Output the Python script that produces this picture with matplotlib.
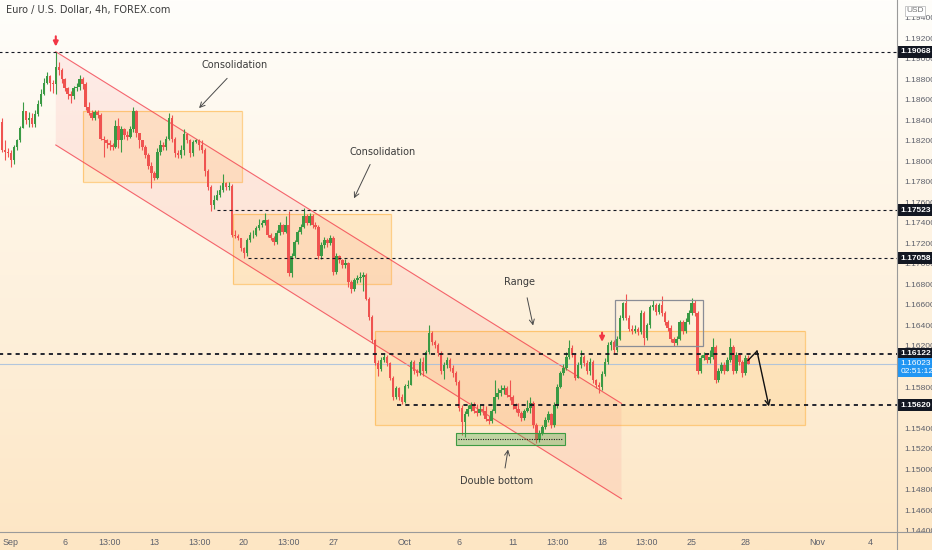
import numpy as np
import matplotlib
matplotlib.use("Agg")
import matplotlib.pyplot as plt
from matplotlib.patches import Rectangle, Polygon
from matplotlib.lines import Line2D
import matplotlib.transforms as mtransforms

### DATA ###

# EURUSD 4h candles (open = previous close)
first_open = 1.1838
closes = [
    1.1811, 1.1809, 1.1808, 1.1801, 1.1814, 1.1821, 1.1833, 1.1849, 1.1840, 1.1842,
    1.1836, 1.1846, 1.1856, 1.1866, 1.1876, 1.1883, 1.1876, 1.1875, 1.1892, 1.1889,
    1.1880, 1.1872, 1.1866, 1.1864, 1.1872, 1.1873, 1.1880, 1.1875, 1.1853, 1.1847,
    1.1842, 1.1848, 1.1845, 1.1822, 1.1821, 1.1818, 1.1816, 1.1814, 1.1835, 1.1821,
    1.1832, 1.1826, 1.1824, 1.1832, 1.1849, 1.1828, 1.1821, 1.1814, 1.1806, 1.1796,
    1.1789, 1.1784, 1.1809, 1.1816, 1.1814, 1.1822, 1.1842, 1.1822, 1.1808, 1.1806,
    1.1811, 1.1827, 1.1821, 1.1808, 1.1819, 1.1821, 1.1816, 1.1811, 1.1791, 1.1775,
    1.1757, 1.1762, 1.1767, 1.1772, 1.1779, 1.1775, 1.1776, 1.1728,
    1.1727, 1.1725, 1.1716, 1.1711, 1.1723, 1.1728, 1.1728, 1.1735, 1.1738, 1.1740,
    1.1743, 1.1728, 1.1725, 1.1721, 1.1730, 1.1738, 1.1731, 1.1738, 1.1691, 1.1708,
    1.1721, 1.1731, 1.1736, 1.1747, 1.1740, 1.1747, 1.1738, 1.1736, 1.1708, 1.1718,
    1.1723, 1.1720, 1.1725, 1.1692, 1.1708, 1.1704, 1.1699, 1.1701, 1.1682, 1.1676,
    1.1684, 1.1686, 1.1687, 1.1689, 1.1666, 1.1648, 1.1626,
    1.1603, 1.1598, 1.1606, 1.1609, 1.1603, 1.1589, 1.1570, 1.1579, 1.1570, 1.1565,
    1.1581, 1.1582, 1.1604, 1.1596, 1.1594, 1.1604, 1.1596, 1.1614, 1.1633, 1.1624,
    1.1621, 1.1613, 1.1596, 1.1601, 1.1606, 1.1599, 1.1594, 1.1585, 1.1560, 1.1546,
    1.1554, 1.1559, 1.1562, 1.1557, 1.1555, 1.1559, 1.1557,
    1.1549, 1.1547, 1.1557, 1.1570, 1.1574, 1.1577,
    1.1579, 1.1572, 1.1570, 1.1562, 1.1559,
    1.1555, 1.1550, 1.1557, 1.1560,
    1.1564, 1.1543, 1.1528, 1.1535, 1.1541, 1.1548, 1.1554, 1.1543, 1.1562, 1.1580,
    1.1594, 1.1599, 1.1609, 1.1618, 1.1611, 1.1589, 1.1601, 1.1609, 1.1603, 1.1596,
    1.1604, 1.1587, 1.1582, 1.1580, 1.1593, 1.1604, 1.1621, 1.1624, 1.1616, 1.1627,
    1.1647, 1.1662, 1.1647, 1.1637, 1.1635, 1.1637, 1.1634, 1.1652, 1.1628, 1.1640,
    1.1658, 1.1660, 1.1653, 1.1660, 1.1652, 1.1643, 1.1638, 1.1627, 1.1623, 1.1627,
    1.1643, 1.1635, 1.1643, 1.1652, 1.1662, 1.1652, 1.1596, 1.1608, 1.1611, 1.1606,
    1.1609, 1.1619, 1.1587, 1.1596, 1.1601, 1.1596, 1.1606, 1.1619, 1.1596, 1.1611,
    1.1604, 1.1594, 1.1608, 1.1602,
]
highs = [
    1.1842, 1.1821, 1.1813, 1.1811, 1.1816, 1.1822, 1.1835, 1.1858, 1.1849, 1.1848,
    1.1847, 1.1850, 1.1860, 1.1871, 1.1881, 1.1887, 1.1884, 1.1879, 1.1907, 1.1897,
    1.1891, 1.1881, 1.1873, 1.1869, 1.1874, 1.1876, 1.1884, 1.1882, 1.1877, 1.1858,
    1.1850, 1.1850, 1.1850, 1.1847, 1.1825, 1.1822, 1.1821, 1.1818, 1.1840, 1.1842,
    1.1835, 1.1833, 1.1830, 1.1835, 1.1853, 1.1850, 1.1828, 1.1821, 1.1816, 1.1808,
    1.1799, 1.1791, 1.1813, 1.1821, 1.1819, 1.1825, 1.1847, 1.1845, 1.1824, 1.1811,
    1.1816, 1.1832, 1.1828, 1.1822, 1.1821, 1.1822, 1.1822, 1.1821, 1.1813, 1.1793,
    1.1777, 1.1767, 1.1772, 1.1777, 1.1788, 1.1780, 1.1780, 1.1778,
    1.1733, 1.1729, 1.1725, 1.1717, 1.1725, 1.1731, 1.1733, 1.1737, 1.1744, 1.1743,
    1.1750, 1.1744, 1.1730, 1.1727, 1.1733, 1.1741, 1.1739, 1.1747, 1.1752, 1.1711,
    1.1723, 1.1733, 1.1739, 1.1755, 1.1749, 1.1750, 1.1749, 1.1741, 1.1738, 1.1721,
    1.1726, 1.1725, 1.1728, 1.1727, 1.1711, 1.1709, 1.1705, 1.1705, 1.1702, 1.1684,
    1.1686, 1.1689, 1.1692, 1.1692, 1.1691, 1.1668, 1.1650,
    1.1627, 1.1606, 1.1609, 1.1612, 1.1611, 1.1604, 1.1591, 1.1581, 1.1580, 1.1573,
    1.1583, 1.1587, 1.1606, 1.1606, 1.1598, 1.1608, 1.1609, 1.1616, 1.1640, 1.1635,
    1.1626, 1.1623, 1.1615, 1.1604, 1.1609, 1.1608, 1.1601, 1.1596, 1.1587, 1.1562,
    1.1557, 1.1562, 1.1565, 1.1565, 1.1563, 1.1562, 1.1562,
    1.1561, 1.1552, 1.1559, 1.1587, 1.1579, 1.1582,
    1.1582, 1.1581, 1.1587, 1.1572, 1.1564,
    1.1564, 1.1557, 1.1559, 1.1567,
    1.1570, 1.1566, 1.1545, 1.1538, 1.1543, 1.1551, 1.1557, 1.1555, 1.1565, 1.1583,
    1.1596, 1.1602, 1.1614, 1.1626, 1.1621, 1.1613, 1.1604, 1.1616, 1.1611, 1.1606,
    1.1608, 1.1606, 1.1588, 1.1585, 1.1596, 1.1608, 1.1624, 1.1626, 1.1626, 1.1630,
    1.1650, 1.1663, 1.1671, 1.1650, 1.1640, 1.1640, 1.1639, 1.1655, 1.1654, 1.1642,
    1.1660, 1.1665, 1.1662, 1.1662, 1.1669, 1.1654, 1.1645, 1.1640, 1.1629, 1.1630,
    1.1645, 1.1645, 1.1647, 1.1655, 1.1667, 1.1665, 1.1654, 1.1611, 1.1614, 1.1613,
    1.1616, 1.1628, 1.1621, 1.1599, 1.1604, 1.1604, 1.1609, 1.1628, 1.1621, 1.1614,
    1.1613, 1.1606, 1.1611, 1.1611,
]
lows = [
    1.1809, 1.1801, 1.1804, 1.1795, 1.1797, 1.1811, 1.1819, 1.1837, 1.1836, 1.1834,
    1.1834, 1.1834, 1.1844, 1.1854, 1.1865, 1.1875, 1.1869, 1.1867, 1.1866, 1.1884,
    1.1876, 1.1869, 1.1861, 1.1857, 1.1861, 1.1869, 1.1870, 1.1871, 1.1850, 1.1845,
    1.1840, 1.1840, 1.1842, 1.1821, 1.1804, 1.1813, 1.1811, 1.1811, 1.1813, 1.1813,
    1.1809, 1.1822, 1.1821, 1.1823, 1.1829, 1.1824, 1.1813, 1.1811, 1.1803, 1.1793,
    1.1774, 1.1782, 1.1783, 1.1806, 1.1811, 1.1811, 1.1821, 1.1819, 1.1804, 1.1803,
    1.1803, 1.1806, 1.1818, 1.1804, 1.1805, 1.1818, 1.1811, 1.1808, 1.1786, 1.1772,
    1.1752, 1.1754, 1.1762, 1.1765, 1.1770, 1.1772, 1.1772, 1.1726,
    1.1725, 1.1723, 1.1713, 1.1706, 1.1708, 1.1721, 1.1725, 1.1727, 1.1733, 1.1736,
    1.1738, 1.1726, 1.1723, 1.1718, 1.1719, 1.1728, 1.1729, 1.1730, 1.1688, 1.1687,
    1.1706, 1.1719, 1.1729, 1.1735, 1.1738, 1.1738, 1.1735, 1.1734, 1.1705, 1.1705,
    1.1716, 1.1717, 1.1718, 1.1689, 1.1690, 1.1701, 1.1696, 1.1696, 1.1678, 1.1672,
    1.1674, 1.1681, 1.1682, 1.1674, 1.1665, 1.1645, 1.1623,
    1.1601, 1.1591, 1.1596, 1.1604, 1.1600, 1.1587, 1.1567, 1.1568, 1.1567, 1.1563,
    1.1564, 1.1579, 1.1582, 1.1593, 1.1591, 1.1592, 1.1591, 1.1594, 1.1612, 1.1621,
    1.1618, 1.1610, 1.1593, 1.1588, 1.1599, 1.1596, 1.1590, 1.1582, 1.1557, 1.1533,
    1.1531, 1.1552, 1.1557, 1.1555, 1.1552, 1.1553, 1.1553,
    1.1547, 1.1544, 1.1545, 1.1555, 1.1568, 1.1571,
    1.1573, 1.1570, 1.1567, 1.1559, 1.1556,
    1.1552, 1.1547, 1.1548, 1.1556,
    1.1555, 1.1540, 1.1525, 1.1526, 1.1533, 1.1539, 1.1546, 1.1540, 1.1541, 1.1560,
    1.1579, 1.1592, 1.1597, 1.1607, 1.1609, 1.1587, 1.1591, 1.1599, 1.1600, 1.1593,
    1.1592, 1.1584, 1.1579, 1.1574, 1.1577, 1.1591, 1.1602, 1.1616, 1.1613, 1.1614,
    1.1626, 1.1645, 1.1645, 1.1635, 1.1632, 1.1633, 1.1631, 1.1632, 1.1621, 1.1626,
    1.1638, 1.1655, 1.1650, 1.1651, 1.1649, 1.1640, 1.1635, 1.1624, 1.1620, 1.1621,
    1.1626, 1.1632, 1.1633, 1.1641, 1.1650, 1.1649, 1.1593, 1.1594, 1.1606, 1.1603,
    1.1603, 1.1607, 1.1584, 1.1585, 1.1594, 1.1593, 1.1600, 1.1604, 1.1593, 1.1594,
    1.1601, 1.1590, 1.1592, 1.1603,
]

# x axis labels (bar index, 6 bars per trading day)
tick_pos = [0, 18, 33, 48, 63, 78, 93, 108, 132, 150, 168, 183, 198, 213, 228, 246, 270, 288]
tick_lbl = ['Sep', '6', '13:00', '13', '13:00', '20', '13:00', '27', 'Oct', '6', '11',
            '13:00', '18', '13:00', '25', '28', 'Nov', '4']

# horizontal levels
lvl_top = 1.19068
lvl_res1 = 1.17523
lvl_res2 = 1.17058
lvl_range_top = 1.16122
lvl_range_bot = 1.15620
last_price = 1.16023

### STYLE ###
GREEN = '#3a9a44'
RED = '#ef5350'
ORANGE = '#ff9800'
CHANNEL = '#f23645'
TXT = '#3b3b3b'
NARROW = ['Liberation Sans Narrow', 'Liberation Sans', 'DejaVu Sans']

fig = plt.figure(figsize=(9.32, 5.5), dpi=100)

# background gradient (white top -> peach bottom)
bg = fig.add_axes([0, 0, 1, 1], zorder=-5)
top_c = np.array([255, 254, 251]) / 255
bot_c = np.array([253, 230, 196]) / 255
t = np.linspace(0, 1, 256)[:, None]
grad = top_c[None, :] * (1 - t) + bot_c[None, :] * t
bg.imshow(grad[:, None, :], aspect='auto', extent=[0, 1, 0, 1])
bg.axis('off')

ax = fig.add_axes([0, 18 / 550, 897 / 932, 532 / 550])
ax.set_facecolor('none')
ax.set_xlim(-3.69, 296.8)
ax.set_ylim(1.14386, 1.19574)

### CANDLES ###
closes = np.array(closes)
highs = np.array(highs)
lows = np.array(lows)
opens = np.r_[first_open, closes[:-1]]
x = np.arange(len(closes)) - 3
highs = np.maximum(highs, np.maximum(opens, closes))
lows = np.minimum(lows, np.minimum(opens, closes))
cols = np.where(closes >= opens, GREEN, RED)
ax.vlines(x, lows, highs, colors=cols, lw=0.8, zorder=4)
body = np.maximum(np.abs(closes - opens), 0.00007)
ax.bar(x, body, bottom=np.minimum(opens, closes), width=0.84, color=cols, lw=0, zorder=5)

### CHANNEL ###
ch_x0, ch_x1 = 15, 204.5
ch_up = (1.1907, 1.1564)
ch_lo = (1.1816, 1.1471)
ax.add_patch(Polygon([(ch_x0, ch_up[0]), (ch_x1, ch_up[1]), (ch_x1, ch_lo[1]), (ch_x0, ch_lo[0])],
                     closed=True, fc=CHANNEL, alpha=0.08, ec='none', zorder=1))
ax.plot([ch_x0, ch_x1], ch_up, color=CHANNEL, lw=0.8, alpha=0.75, zorder=3)
ax.plot([ch_x0, ch_x1], ch_lo, color=CHANNEL, lw=0.8, alpha=0.75, zorder=3)

### BOXES ###
for (x0, x1, p0, p1) in [(24.1, 77.4, 1.1780, 1.1849),
                         (74.4, 127.3, 1.1680, 1.1749),
                         (121.9, 266.0, 1.1543, 1.1635)]:
    ax.add_patch(Rectangle((x0, p0), x1 - x0, p1 - p0, fc=ORANGE, alpha=0.13, ec='none', zorder=2))
    ax.add_patch(Rectangle((x0, p0), x1 - x0, p1 - p0, fc='none', ec=ORANGE, alpha=0.4, lw=0.9, zorder=2))

ax.add_patch(Rectangle((202.3, 1.1620), 29.5, 0.0045, fc='none', ec='#8a8d96', lw=0.9, zorder=6))

# double bottom zone
ax.add_patch(Rectangle((149.0, 1.1523), 36.6, 0.0012, fc='#4caf50', alpha=0.35, ec='none', zorder=6))
ax.add_patch(Rectangle((149.0, 1.1523), 36.6, 0.0012, fc='none', ec='#3e9a42', lw=0.8, zorder=6))
ax.hlines(1.1529, 149.6, 185.0, colors='#1b1b1b', lw=0.8, linestyles=(0, (1, 1.2)), zorder=7)

### LEVELS ###
thin = (0, (2.7, 2.7))
thick = (0, (2.3, 2.3))
ax.hlines(lvl_top, -4, 297, colors='#131722', lw=0.8, linestyles=thin, zorder=6)
ax.hlines(lvl_res1, 69, 297, colors='#131722', lw=0.8, linestyles=thin, zorder=6)
ax.hlines(lvl_res2, 79.4, 297, colors='#131722', lw=0.8, linestyles=thin, zorder=6)
ax.hlines(lvl_range_top, -4, 297, colors='#131722', lw=1.3, linestyles=thick, zorder=6)
ax.hlines(lvl_range_bot, 129.3, 297, colors='#131722', lw=1.3, linestyles=thick, zorder=6)
ax.axhline(last_price, color='#9fbde0', lw=0.8, alpha=0.8, zorder=3)

### ANNOTATIONS ###
arr = dict(arrowstyle='->', color='#4a4a4a', lw=0.7, shrinkA=0, shrinkB=0, mutation_scale=9)
ax.text(75, 1.1894, 'Consolidation', ha='center', va='center', fontsize=7, color=TXT)
ax.annotate('', xy=(63, 1.1852), xytext=(72.4, 1.1881), arrowprops=arr)
ax.text(124.6, 1.1809, 'Consolidation', ha='center', va='center', fontsize=7, color=TXT)
ax.annotate('', xy=(114.9, 1.1764), xytext=(120.3, 1.1797), arrowprops=arr)
ax.text(170.5, 1.1682, 'Range', ha='center', va='center', fontsize=7, color=TXT)
ax.annotate('', xy=(174.9, 1.1640), xytext=(172.9, 1.1667), arrowprops=arr)
ax.text(162.8, 1.1488, 'Double bottom', ha='center', va='center', fontsize=7, color=TXT)
ax.annotate('', xy=(166.5, 1.1519), xytext=(165.5, 1.1501), arrowprops=arr)

red_arr = dict(arrowstyle='-|>', color=CHANNEL, lw=1.5, shrinkA=0, shrinkB=0, mutation_scale=7)
ax.annotate('', xy=(15, 1.1912), xytext=(15, 1.1922), arrowprops=red_arr, zorder=8)
ax.annotate('', xy=(198, 1.1624), xytext=(198, 1.1633), arrowprops=red_arr, zorder=8)

# projected move
ax.plot([246.9, 249.9], [1.1606, 1.1615], color='#111111', lw=1.0, zorder=8)
ax.annotate('', xy=(253.9, 1.1561), xytext=(249.9, 1.1615),
            arrowprops=dict(arrowstyle='->', color='#111111', lw=1.0, shrinkA=0, shrinkB=0,
                            mutation_scale=9), zorder=8)

### AXES ###
for s in ax.spines.values():
    s.set_visible(False)
ax.yaxis.tick_right()
ax.set_yticks(np.arange(1.144, 1.1941, 0.002))
ax.yaxis.set_major_formatter(matplotlib.ticker.FormatStrFormatter('%.5f'))
ax.tick_params(axis='y', length=0, pad=5, labelsize=6.1, labelcolor='#5d606b')
ax.set_xticks(tick_pos)
ax.set_xticklabels(tick_lbl)
ax.tick_params(axis='x', length=0, pad=4, labelsize=6.4, labelcolor='#5d606b')
for lbl in ax.get_xticklabels() + ax.get_yticklabels():
    lbl.set_family(NARROW)

fig.add_artist(Line2D([0, 1], [18 / 550, 18 / 550], color='#9a9a9a', lw=0.8))
fig.add_artist(Line2D([897 / 932, 897 / 932], [0, 1], color='#9a9a9a', lw=0.8))

# price labels on the right scale
tr = mtransforms.blended_transform_factory(ax.transAxes, ax.transData)
for p in [lvl_top, lvl_res1, lvl_res2, lvl_range_top, lvl_range_bot]:
    ax.text(1.0035, p, '%.5f' % p, transform=tr, ha='left', va='center', fontsize=6.0,
            family=NARROW, color='white', fontweight='bold', clip_on=False, zorder=20,
            bbox=dict(boxstyle='square,pad=0.3', fc='#131722', ec='none'))
ax.text(1.0035, last_price - 0.00035, '%.5f\n02:51:12' % last_price, transform=tr, ha='left',
        va='center', fontsize=6.0, family=NARROW, color='white', linespacing=1.1,
        clip_on=False, zorder=20,
        bbox=dict(boxstyle='square,pad=0.3', fc='#2196f3', ec='none'))

fig.text(915 / 932, 1 - 11 / 550, 'USD', ha='center', va='center', fontsize=6, color='#777777',
         family=NARROW, zorder=20,
         bbox=dict(boxstyle='square,pad=0.2', fc='white', ec='#c8c8c8', lw=0.7))
fig.text(6 / 932, 1 - 10 / 550, 'Euro / U.S. Dollar, 4h, FOREX.com', ha='left', va='center',
         fontsize=7, color='#3b3b3b')

plt.savefig('out.png', dpi=100)
